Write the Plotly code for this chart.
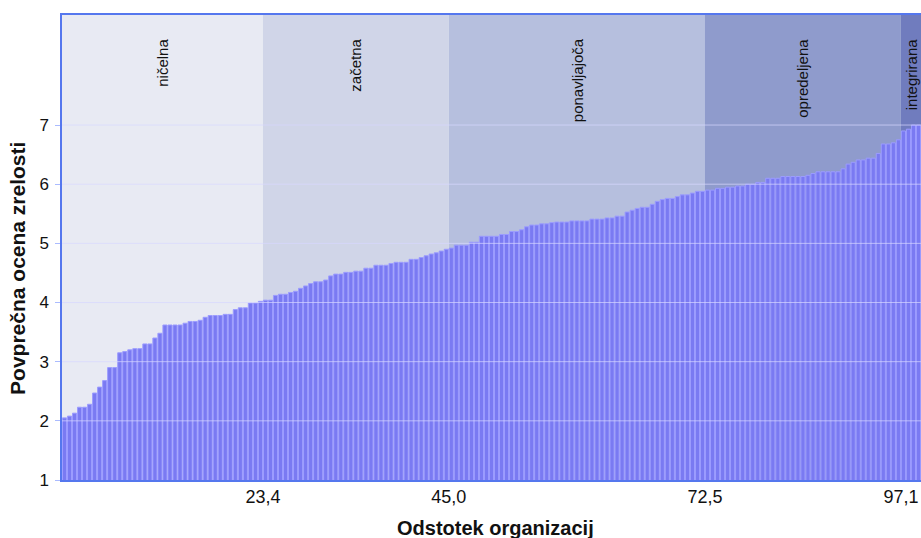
import plotly.graph_objects as go

# Sorted average maturity scores, one bar per organization
scores = [
    2.05, 2.08, 2.13, 2.23, 2.23, 2.28, 2.47, 2.57, 2.68, 2.90,
    2.90, 3.15, 3.17, 3.20, 3.22, 3.22, 3.30, 3.30, 3.40, 3.48,
    3.62, 3.62, 3.62, 3.62, 3.65, 3.68, 3.68, 3.70, 3.75, 3.78,
    3.78, 3.78, 3.80, 3.80, 3.88, 3.91, 3.91, 3.99, 3.99, 4.02,
    4.04, 4.04, 4.12, 4.14, 4.14, 4.17, 4.19, 4.24, 4.28, 4.32,
    4.35, 4.35, 4.38, 4.45, 4.48, 4.48, 4.51, 4.51, 4.53, 4.53,
    4.58, 4.58, 4.63, 4.63, 4.63, 4.66, 4.68, 4.68, 4.68, 4.73,
    4.73, 4.76, 4.79, 4.82, 4.84, 4.87, 4.90, 4.92, 4.97, 4.97,
    4.97, 5.02, 5.02, 5.12, 5.12, 5.12, 5.12, 5.15, 5.15, 5.20,
    5.20, 5.23, 5.28, 5.31, 5.31, 5.33, 5.33, 5.35, 5.36, 5.36,
    5.36, 5.38, 5.38, 5.38, 5.38, 5.41, 5.41, 5.41, 5.43, 5.43,
    5.46, 5.46, 5.53, 5.56, 5.59, 5.61, 5.61, 5.66, 5.71, 5.74,
    5.76, 5.76, 5.79, 5.82, 5.82, 5.85, 5.88, 5.88, 5.90, 5.90,
    5.93, 5.93, 5.95, 5.95, 5.97, 5.97, 6.00, 6.00, 6.03, 6.03,
    6.10, 6.10, 6.10, 6.13, 6.13, 6.13, 6.13, 6.13, 6.15, 6.18,
    6.21, 6.21, 6.21, 6.21, 6.21, 6.26, 6.34, 6.37, 6.41, 6.41,
    6.44, 6.44, 6.52, 6.68, 6.68, 6.70, 6.75, 6.90, 6.93, 7.00,
    7.00,
]

# Maturity levels (bands) and their boundaries in bar-index units
levels = ["ničelna", "začetna", "ponavljajoča", "opredeljena", "integrirana"]
level_edges = [-0.5, 39.5, 76.5, 127.5, 166.5, 170.5]
level_colors = ["#E8EAF3", "#D0D5E8", "#B6BFDE", "#8F9BCC", "#707CBE"]

# Cumulative percentage tick labels at the band boundaries
tick_positions = [39.5, 76.5, 127.5, 166.5]
tick_labels = ["23,4", "45,0", "72,5", "97,1"]

y_ticks = [1, 2, 3, 4, 5, 6, 7]
y_max = 8.86

x_title = "Odstotek organizacij"
y_title = "Povprečna ocena zrelosti"

FONT = "Liberation Sans, Arial"

x = list(range(len(scores)))

fig = go.Figure()
fig.add_trace(go.Bar(
    x=x, y=scores,
    marker=dict(color="#7A7AF2", line=dict(color="#9C9CFF", width=1)),
    hoverinfo="y",
))

shapes = []
annotations = []
for name, x0, x1, col in zip(levels, level_edges[:-1], level_edges[1:], level_colors):
    shapes.append(dict(type="rect", xref="x", yref="y", x0=x0, x1=x1, y0=1, y1=y_max,
                       fillcolor=col, line=dict(width=0), layer="below"))
    annotations.append(dict(x=(x0 + x1) / 2, y=y_max - 0.36, xref="x", yref="y",
                            text=name, textangle=-90, showarrow=False,
                            xanchor="center", yanchor="top",
                            font=dict(family=FONT, size=15, color="#111")))

# axis titles
annotations.append(dict(x=0.5, y=-0.103, xref="paper", yref="paper", xshift=4,
                        text="<b>" + x_title + "</b>", showarrow=False,
                        xanchor="center", yanchor="middle",
                        font=dict(family=FONT, size=20, color="#111")))
annotations.append(dict(x=-0.0512, y=0.454, xref="paper", yref="paper",
                        text="<b>" + y_title + "</b>", showarrow=False, textangle=-90,
                        xanchor="center", yanchor="middle",
                        font=dict(family=FONT, size=21, color="#111")))

# gridlines drawn faintly on top of the bars
for v in y_ticks[1:]:
    shapes.append(dict(type="line", xref="paper", yref="y", x0=0, x1=1, y0=v, y1=v,
                       line=dict(color="rgba(215,215,255,0.7)", width=1), layer="above"))

fig.update_layout(
    width=921, height=538,
    margin=dict(l=62, r=0, t=15, b=58, autoexpand=False),
    paper_bgcolor="white", plot_bgcolor="white",
    bargap=0.18,
    showlegend=False,
    shapes=shapes, annotations=annotations,
    font=dict(family=FONT, size=18, color="#111"),
    xaxis=dict(
        range=[-0.5, 170.5], tickmode="array", tickvals=tick_positions, ticktext=tick_labels,
        showgrid=False, zeroline=False, showline=True, linecolor="#5577EE", linewidth=1.5,
        mirror=True, ticks="", tickfont=dict(size=18), automargin=False,
    ),
    yaxis=dict(
        range=[1, y_max], tickmode="array", tickvals=y_ticks,
        showgrid=False, zeroline=False, showline=True, linecolor="#5577EE", linewidth=1.5,
        mirror=True, ticks="outside", ticklen=5, tickcolor="#AABBFF", tickfont=dict(size=17),
        ticklabelstandoff=3, automargin=False,
    ),
)

fig.write_html(
    "out.html",
    config={"displayModeBar": False},
    post_script="document.body.style.margin='0';document.body.style.overflow='hidden';",
)
